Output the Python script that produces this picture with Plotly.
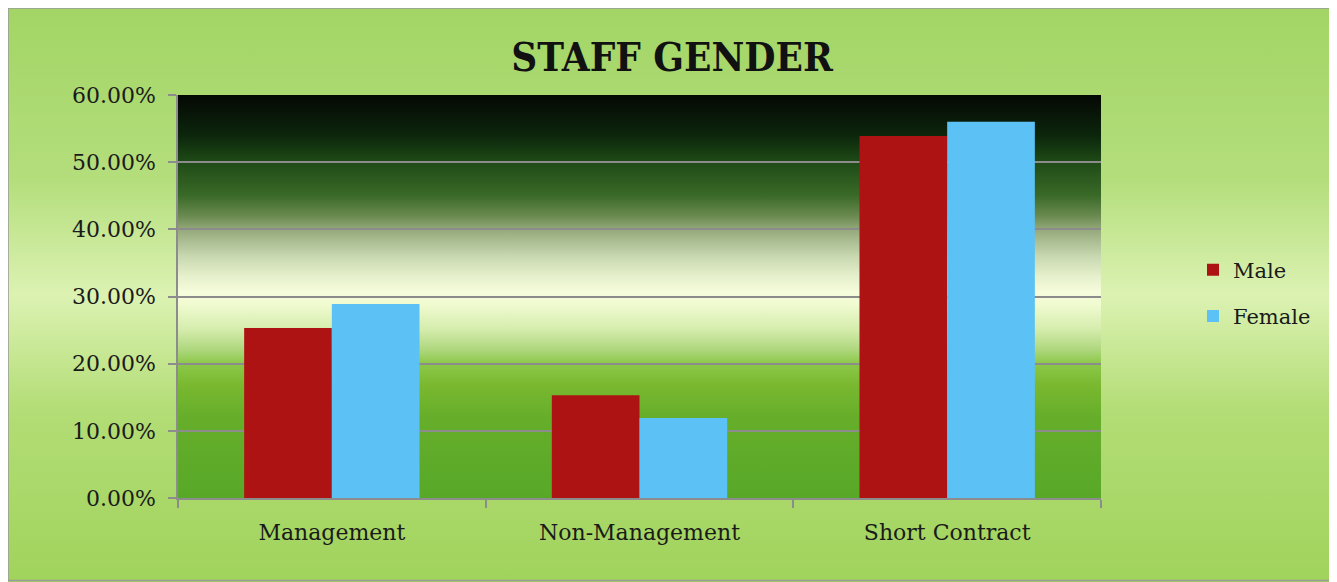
import base64
import plotly.graph_objects as go

categories = ["Management", "Non-Management", "Short Contract"]
male = [0.253, 0.153, 0.539]
female = [0.289, 0.119, 0.560]
y_ticks = [0, 0.1, 0.2, 0.3, 0.4, 0.5, 0.6]
y_tick_labels = ["0.00%", "10.00%", "20.00%", "30.00%", "40.00%", "50.00%", "60.00%"]

OFF = 8  # page body margin
W, H = 1337 - OFF, 582 - OFF
PX0, PX1, PY0, PY1 = 178, 1101, 95, 498  # plot area in page coords
L = PX0 - OFF
T = PY0 - OFF
PW, PH = PX1 - PX0, PY1 - PY0
R = W - L - PW
B = H - T - PH


def svg_uri(stops):
    st = "".join(f'<stop offset="{o}" stop-color="{c}"/>' for o, c in stops)
    svg = (f'<svg xmlns="http://www.w3.org/2000/svg" width="100" height="100" preserveAspectRatio="none">'
           f'<defs><linearGradient id="g" x1="0" y1="0" x2="0" y2="1">{st}</linearGradient></defs>'
           f'<rect width="100" height="100" fill="url(#g)"/></svg>')
    return "data:image/svg+xml;base64," + base64.b64encode(svg.encode()).decode()


plot_grad = svg_uri([
    (0.0, "#040804"), (0.1, "#0c260c"), (0.165, "#1e4a16"), (0.25, "#3a6a28"),
    (0.3, "#6a8a50"), (0.333, "#94a87a"), (0.4, "#c8d8b0"), (0.45, "#e6f0cc"),
    (0.49, "#f6fcdc"), (0.52, "#f0fbd0"), (0.58, "#d6edae"), (0.63, "#b0d880"),
    (0.667, "#8cc848"), (0.72, "#7ab830"), (0.8, "#66ae2a"), (1.0, "#58a828"),
])
outer_grad = svg_uri([
    (0.0, "#a2d565"), (0.3, "#b4de7c"), (0.5, "#dcf2b2"), (0.7, "#b3dd76"), (1.0, "#a0d35c"),
])

fx0 = -L / PW
fx1 = (W - L) / PW
fy1 = (H - B) / PH
fy0 = -B / PH

fig = go.Figure()
fig.add_trace(go.Bar(name="Male", x=categories, y=male, marker_color="#ae1313",
                     marker_line_width=0, legendgroup="m"))
fig.add_trace(go.Bar(name="Female", x=categories, y=female, marker_color="#5cc2f6",
                     marker_line_width=0, legendgroup="f"))

fig.update_layout(
    width=W, height=H,
    margin=dict(l=L, r=R, t=T, b=B),
    paper_bgcolor="#a6d768",
    plot_bgcolor="rgba(0,0,0,0)",
    barmode="group", bargap=0.43, bargroupgap=0,
    title=dict(text="<b>STAFF GENDER</b>", x=(672 - OFF) / W, xanchor="center",
               y=1 - (57 - OFF) / H, yanchor="middle",
               font=dict(family="DejaVu Serif Condensed, DejaVu Serif", size=40, color="#111111")),
    font=dict(family="DejaVu Serif", size=22, color="#1a1a1a"),
    legend=dict(x=(1193 - PX0) / PW, y=(PY1 - 293) / PH, xanchor="left", yanchor="middle",
                bgcolor="rgba(0,0,0,0)", font=dict(size=21, color="#1a1a1a"),
                traceorder="grouped", tracegroupgap=16),
    images=[
        dict(source=outer_grad, xref="paper", yref="paper", x=fx0, y=fy1,
             sizex=fx1 - fx0, sizey=fy1 - fy0, sizing="stretch", layer="below"),
        dict(source=plot_grad, xref="paper", yref="paper", x=0, y=1,
             sizex=1, sizey=1, sizing="stretch", layer="below"),
    ],
    shapes=[
        dict(type="rect", xref="paper", yref="paper", x0=fx0, x1=fx1 - 0.003, y0=fy0 + 0.004, y1=fy1,
             line=dict(color="#9a9a9a", width=1.5), fillcolor="rgba(0,0,0,0)", layer="below"),
    ],
    showlegend=True,
)

fig.update_yaxes(
    range=[0, 0.6], tickvals=y_ticks, ticktext=y_tick_labels,
    showgrid=True, gridcolor="#8c8c8c", gridwidth=1.5,
    showline=True, linecolor="#8c8c8c", linewidth=1.5,
    ticks="outside", ticklen=8, tickcolor="#8c8c8c", tickwidth=1.5,
    ticklabelstandoff=8, zeroline=False,
    tickfont=dict(size=22, family="DejaVu Serif"),
)
fig.update_xaxes(
    showline=True, linecolor="#8c8c8c", linewidth=1.5,
    ticks="outside", tickson="boundaries", ticklen=8, tickcolor="#8c8c8c", tickwidth=1.5,
    ticklabelstandoff=14, showgrid=False,
    tickfont=dict(size=22, family="DejaVu Serif"),
)

fig.write_html("out.html")
